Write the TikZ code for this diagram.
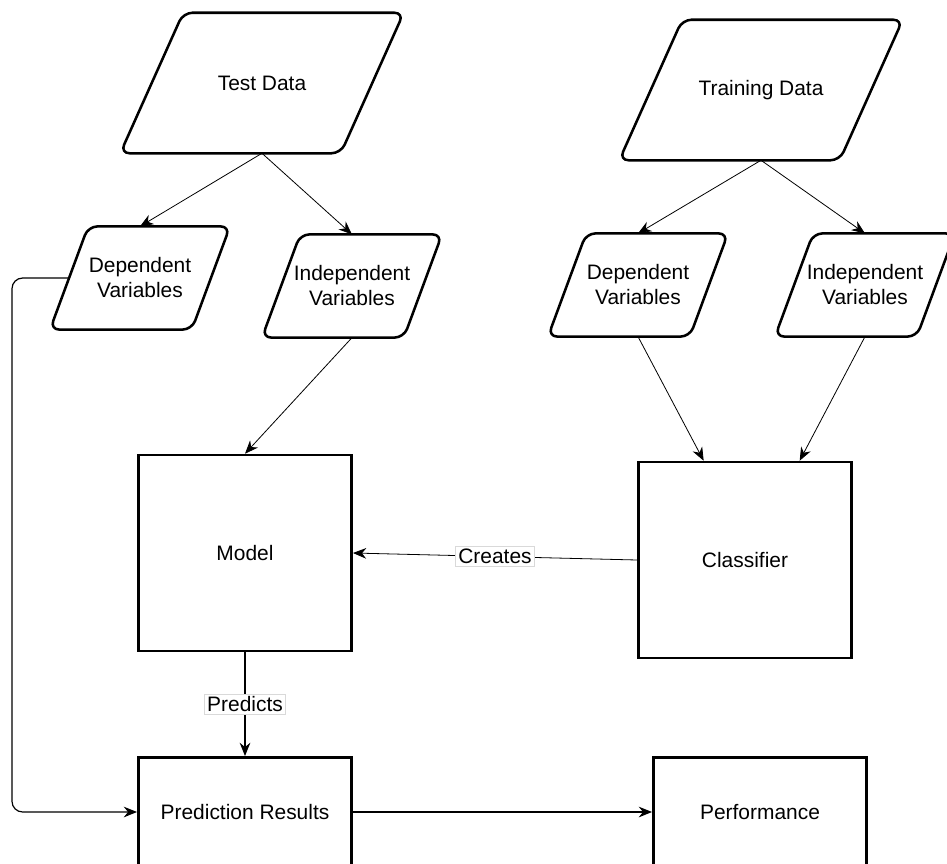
\documentclass[tikz,border=0pt]{standalone}
\usepackage{fontspec}
\setmainfont{Liberation Sans}
\usetikzlibrary{arrows.meta}

\begin{document}
\begin{tikzpicture}[
    x=0.75pt, y=-0.75pt,
    data/.style={
        rectangle,
        minimum width=165pt,
        minimum height=105pt,
        inner sep=1pt,
        font=\fontsize{15.7}{18.75}\selectfont,
        align=center
    },
    var/.style={
        data,
        minimum width=106pt,
        minimum height=77pt
    },
    para/.style={draw, line width=1.9pt, rounded corners=7pt},
    box/.style={
        rectangle,
        draw, line width=1.9pt,
        minimum width=160pt,
        minimum height=147pt,
        font=\fontsize{15.7}{18.75}\selectfont
    },
    lbl/.style={
        fill=white, draw=gray!30, line width=0.3pt,
        inner sep=2pt,
        font=\fontsize{15.7}{18.75}\selectfont
    },
    arr/.style={-{Stealth[length=10pt,width=8pt]}, line width=0.6pt}
]
\clip (0,0) rectangle (947,864);

\node[data] (test) at (262,83) {Test Data};
\node[data] (train) at (761,90) {Training Data};

\node[var] (tdep) at (140,278) {Dependent\\Variables};
\node[var] (tind) at (352,286) {Independent\\Variables};
\node[var] (rdep) at (638,285) {Dependent\\Variables};
\node[var] (rind) at (865,285) {Independent\\Variables};

% slanted outlines
\foreach \n/\s in {test/23.6pt, train/23.6pt, tdep/14.3pt, tind/14.3pt, rdep/14.3pt, rind/14.3pt}
    \draw[para] ([xshift=\s]\n.north west) -- ([xshift=\s]\n.north east)
        -- ([xshift=-\s]\n.south east) -- ([xshift=-\s]\n.south west) -- cycle;

\node[box] (model) at (245,553) {Model};
\node[box] (cls) at (745,560) {Classifier};
\node[box, minimum height=82pt] (pred) at (245,812) {Prediction Results};
\node[box, minimum height=82pt] (perf) at (760,812) {Performance};

\coordinate (loop) at (12,0);

\draw[arr] (test.south) -- (tdep.north);
\draw[arr] (test.south) -- (tind.north);
\draw[arr] (train.south) -- (rdep.north);
\draw[arr] (train.south) -- (rind.north);

\draw[arr] (tind.south) -- (model.north);
\draw[arr] (rdep.south) -- ([xshift=-31pt]cls.north);
\draw[arr] (rind.south) -- ([xshift=41pt]cls.north);

\draw[arr] (cls.west) -- node[lbl] {Creates} (model.east);
\draw[arr, line width=0.9pt] (model.south) -- node[lbl] {Predicts} (pred.north);

\draw[arr, line width=0.9pt, rounded corners=8pt] (tdep.west) -- (tdep.west -| loop) |- (pred.west);
\draw[arr, line width=0.9pt] (pred.east) -- (perf.west);

\end{tikzpicture}
\end{document}
